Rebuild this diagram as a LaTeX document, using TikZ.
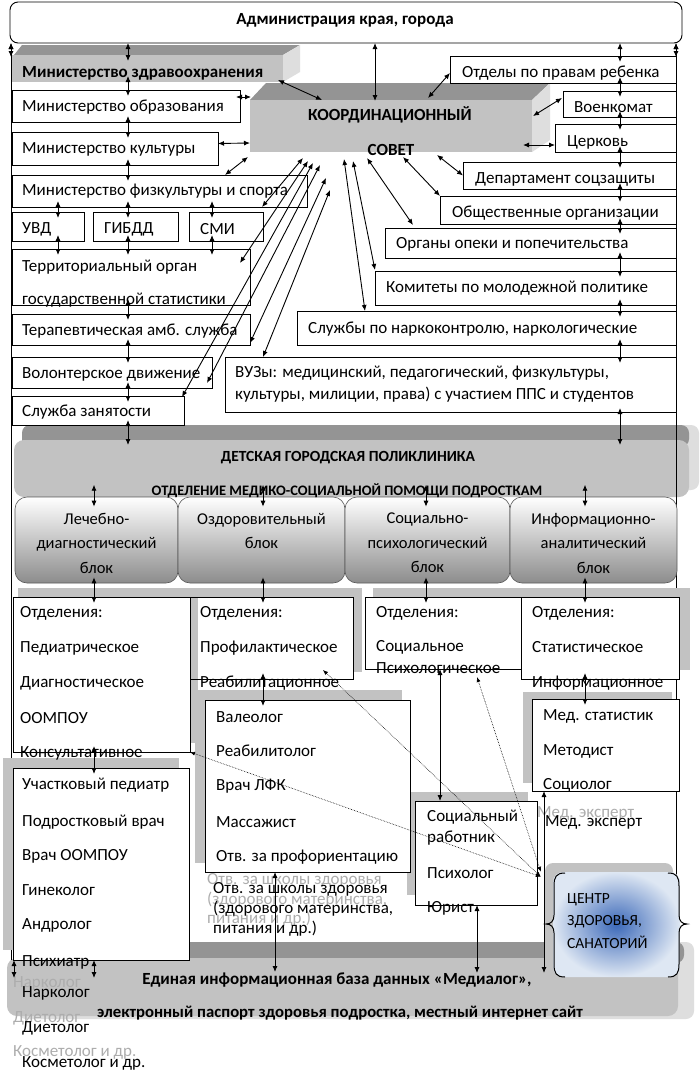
\documentclass[tikz,border=0pt]{standalone}
\usepackage{fontspec}
\setmainfont{Carlito}
\usetikzlibrary{arrows.meta,calc}
\definecolor{frontc}{gray}{0.76}
\definecolor{topc}{gray}{0.58}
\definecolor{sidec}{gray}{0.87}
\definecolor{shdc}{gray}{0.76}
\definecolor{ghost}{gray}{0.68}
\definecolor{blkbot}{gray}{0.55}
\definecolor{cin}{RGB}{60,105,185}
\definecolor{cout}{RGB}{222,231,243}
\newcommand\fsz{\fontsize{17}{20}\selectfont}
\newcommand\mkbox[6][]{\node[bx,#1,minimum width={#5-#3},minimum height={#6-#4}] (#2) at ({(#3+#5)/2},{(#4+#6)/2}) {};}
\newcommand\gaparr[3]{\draw[dar] ($(#1.south -| #3)+(0,-6)$) -- ($(#2.north -| #3)+(0,6)$);}
\begin{document}
\begin{tikzpicture}[x=1pt,y=-1pt,
  bx/.style={draw,line width=0.9pt,fill=white,inner sep=0pt,outer sep=0pt},
  tx/.style={anchor=west,inner sep=0pt,font=\fsz},
  btx/.style={tx,font=\fsz\bfseries},
  ctx/.style={inner sep=0pt,font=\fsz\bfseries},
  gh/.style={tx,text=ghost},
  bltx/.style={inner sep=0pt,align=center,font=\fontsize{16.5}{24.5}\selectfont},
  dar/.style={{Latex[length=6pt,width=5pt]}-{Latex[length=6pt,width=5pt]},line width=0.9pt},
  dotar/.style={{Latex[length=5pt,width=4pt]}-{Latex[length=5pt,width=4pt]},line width=0.6pt,densely dotted},
  blk/.style={draw=gray!70!black,line width=0.6pt,rounded corners=12pt,top color=white,bottom color=blkbot},
]
\useasboundingbox (0,0) rectangle (700,1076);
\fill[white] (0,0) rectangle (700,1076);

% helper x-coordinates
\coordinate (XF1) at (11,0);
\coordinate (XF2) at (676,0);
\coordinate (XL) at (128,0);
\coordinate (XU) at (58,0);
\coordinate (XS) at (212,0);
\coordinate (XR) at (620,0);
\coordinate (XC) at (375,0);
\coordinate (X1) at (94,0);
\coordinate (X2) at (263,0);
\coordinate (X3) at (426,0);
\coordinate (X4) at (585,0);
\coordinate (X5) at (440,0);
\coordinate (X6) at (477,0);
\coordinate (X7) at (544,0);
\coordinate (X8) at (275,0);

% ---------- polyclinic (3D) ----------
\fill[sidec,rounded corners=8pt] (22,425) rectangle (699,490);
\fill[topc,rounded corners=8pt] (22,425) rectangle (689,447);
\mkbox[draw=none,fill=frontc,rounded corners=10pt]{poly}{14}{440}{689}{497}

% ---------- data base (3D) ----------
\fill[sidec,rounded corners=8pt] (18,942) rectangle (694,1019);
\fill[topc,rounded corners=8pt] (18,942) rectangle (684,963);
\mkbox[draw=none,fill=frontc,rounded corners=10pt]{db}{7}{958}{678}{1016}

% ---------- top ----------
\mkbox[rounded corners=8pt]{admin}{10}{2}{682}{43}

% frame lines
\draw[line width=0.9pt,{Latex[length=6pt,width=5pt]}-] (admin.south -| XF1) -- ($(admin.south -| XF1)+(0,917)$);
\draw[dar] (admin.south -| XF1) -- ++(0,14);
\draw[line width=0.9pt,{Latex[length=6pt,width=5pt]}-{Latex[length=6pt,width=5pt]}] (admin.south -| XF2) -- ($(db.north -| XF2)+(0,16)$);
\draw[dar] (admin.south -| XF2) -- ++(0,14);

% Ministry of health (3D)
\fill[topc] (14,55) -- (22,45) -- (300,45) -- (283,55) -- cycle;
\fill[sidec] (283,55) -- (300,45) -- (300,72) -- (283,82) -- cycle;
\mkbox[draw=none,fill=frontc]{mh}{12}{55}{283}{82}

% Council (3D)
\fill[topc] (250,100) -- (266,83) -- (550,83) -- (532,100) -- cycle;
\fill[sidec] (532,100) -- (550,83) -- (550,140) -- (532,152) -- cycle;
\mkbox[draw=none,fill=frontc]{cs}{250}{100}{532}{152}

% left column
\mkbox{me}{12}{90}{240}{122}
\mkbox{mc}{12}{132}{218}{165}
\mkbox{ms}{12}{175}{307}{207}
\mkbox{uvd}{12}{212}{84}{241}
\mkbox{gibdd}{93}{212}{178}{241}
\mkbox{smi}{189}{212}{263}{241}
\mkbox{terr}{12}{249}{250}{305}
\mkbox{ther}{12}{314}{250}{345}
\mkbox{vol}{12}{357}{212}{388}
\mkbox{emp}{12}{396}{184}{425}

% right column
\mkbox{otd}{450}{56}{676}{83}
\mkbox{voen}{563}{91}{676}{117}
\mkbox{cerk}{555}{124}{676}{152}
\mkbox{dep}{463}{162}{676}{189}
\mkbox{obsh}{440}{196}{676}{224}
\mkbox{opek}{385}{228}{676}{258}
\mkbox{kom}{375}{271}{676}{305}
\mkbox{nark}{297}{311}{676}{345}
\mkbox{vuz}{225}{357}{676}{412}

% blocks
\node[blk,minimum width=163,minimum height=86,inner sep=0] (b1) at (96.5,540) {};
\node[blk,minimum width=167,minimum height=86,inner sep=0] (b2) at (261.5,540) {};
\node[blk,minimum width=165,minimum height=86,inner sep=0] (b3) at (427.5,540) {};
\node[blk,minimum width=167,minimum height=86,inner sep=0] (b4) at (593.5,540) {};

% shadows
\fill[shdc] (18,588) rectangle (362,597);
\fill[shdc] (373,588) rectangle (690,597);
\fill[shdc] (353,597) rectangle (362,672);
\fill[shdc] (679,597) rectangle (690,670);
\fill[shdc] (191,679) rectangle (198,743);
\fill[shdc] (195,690) rectangle (402,863);
\fill[shdc] (3,758) rectangle (179,950);
\fill[shdc] (523,692) rectangle (672,783);
\fill[shdc] (407,792) rectangle (528,895);
\fill[shdc,rounded corners=8pt] (545,863) rectangle (673,968);

% lower boxes
\mkbox{o1}{13}{597}{190}{752}
\mkbox{o2}{190}{597}{353}{679}
\fill[shdc] (191,598) rectangle (198,679);
\mkbox{o3}{365}{597}{521}{669}
\mkbox{o4}{521}{597}{679}{679}
\mkbox{val}{205}{700}{410}{872}
\mkbox{uch}{13}{768}{189}{960}
\mkbox{med}{532}{699}{679}{791}
\mkbox{soc}{415}{801}{537}{905}

% centre
\node[draw=none,rounded corners=10pt,inner sep=0,minimum width=127,minimum height=105,inner color=cin,outer color=cout] (cen) at (616.5,924.5) {};
\draw[line width=1pt] (565,873) .. controls (556,873) and (554,877) .. (554,886) -- (554,915) .. controls (554,921) and (551,924) .. (546,924) .. controls (551,924) and (554,927) .. (554,933) -- (554,964) .. controls (554,973) and (556,977) .. (565,977);
\draw[line width=1pt] (668,873) .. controls (677,873) and (679,877) .. (679,886) -- (679,915) .. controls (679,921) and (682,924) .. (687,924) .. controls (682,924) and (679,927) .. (679,933) -- (679,964) .. controls (679,973) and (677,977) .. (668,977);

% ---------- texts ----------
\node[ctx] (t_admin) at (345,20) {Администрация края, города};
\node[btx] (t_mh) at (22,73) {Министерство здравоохранения};
\node[tx] (t_me) at (22,107) {Министерство образования};
\node[tx] (t_mc) at (22,149) {Министерство культуры};
\node[tx] (t_ms) at (22,191) {Министерство физкультуры и спорта};
\node[tx] (t_uvd) at (22,229) {УВД};
\node[tx] (t_gibdd) at (104,229) {ГИБДД};
\node[tx] (t_smi) at (200,229) {СМИ};
\node[tx] (t_terr1) at (22,267) {Территориальный орган};
\node[tx] (t_terr2) at (22,300) {государственной статистики};
\node[tx] (t_ther) at (22,331) {Терапевтическая амб. служба};
\node[tx] (t_vol) at (22,374) {Волонтерское движение};
\node[tx] (t_emp) at (22,412) {Служба занятости};
\node[ctx] (t_cs1) at (390,115) {КООРДИНАЦИОННЫЙ};
\node[ctx] (t_cs2) at (391,150) {СОВЕТ};
\node[tx] (t_otd) at (462,73) {Отделы по правам ребенка};
\node[tx] (t_voen) at (574,107) {Военкомат};
\node[tx] (t_cerk) at (567,142) {Церковь};
\node[tx] (t_dep) at (475,179) {Департамент соцзащиты};
\node[tx] (t_obsh) at (452,213) {Общественные организации};
\node[tx] (t_opek) at (396,244) {Органы опеки и попечительства};
\node[tx] (t_kom) at (386,288) {Комитеты по молодежной политике};
\node[tx] (t_nark) at (308,329) {Службы по наркоконтролю, наркологические};
\node[tx] (t_vuz1) at (235,373) {ВУЗы: медицинский, педагогический, физкультуры,};
\node[tx] (t_vuz2) at (235,395) {культуры, милиции, права) с участием ППС и студентов};
\node[inner sep=0pt,font=\fontsize{15.5}{18}\selectfont\bfseries] (t_poly1) at (348,458) {ДЕТСКАЯ ГОРОДСКАЯ ПОЛИКЛИНИКА};
\node[inner sep=0pt,font=\fontsize{14.5}{18}\selectfont\bfseries] (t_poly2) at (347,491) {ОТДЕЛЕНИЕ МЕДИКО-СОЦИАЛЬНОЙ ПОМОЩИ ПОДРОСТКАМ};
\node[bltx] (t_b1) at ($(b1.center)+(0,3)$) {Лечебно-\\диагностический\\блок};
\node[bltx] (t_b2) at ($(b2.center)+(0,-9)$) {Оздоровительный\\блок};
\node[bltx] (t_b3) at ($(b3.center)+(0,3)$) {Социально-\\психологический\\блок};
\node[bltx] (t_b4) at ($(b4.center)+(0,3)$) {Информационно-\\аналитический\\блок};

\node[tx] (t_o1a) at (20,613) {Отделения:};
\node[tx] (t_o1b) at (20,648) {Педиатрическое};
\node[tx] (t_o1c) at (20,683) {Диагностическое};
\node[tx] (t_o1d) at (20,718) {ООМПОУ};
\node[tx] (t_o1e) at (20,753) {Консультативное};
\node[tx] (t_o2a) at (200,613) {Отделения:};
\node[tx] (t_o2b) at (200,648) {Профилактическое};
\node[tx] (t_o2c) at (200,683) {Реабилитационное};
\node[tx] (t_o3a) at (376,613) {Отделения:};
\node[tx] (t_o3b) at (376,647) {Социальное};
\node[tx] (t_o3c) at (376,668) {Психологическое};
\node[tx] (t_o4a) at (532,613) {Отделения:};
\node[tx] (t_o4b) at (532,647) {Статистическое};
\node[tx] (t_o4c) at (532,683) {Информационное};

\node[tx] (t_v1) at (216,717) {Валеолог};
\node[tx] (t_v2) at (216,751) {Реабилитолог};
\node[tx] (t_v3) at (216,786) {Врач ЛФК};
\node[tx] (t_v4) at (216,822) {Массажист};
\node[tx] (t_v5) at (216,857) {Отв. за профориентацию};
\node[gh] (g_v6) at (207,880) {Отв. за школы здоровья};
\node[gh] (g_v7) at (207,900) {(здорового материнства,};
\node[gh] (g_v8) at (207,919) {питания и др.)};
\node[tx] (t_v6) at (213,889) {Отв. за школы здоровья};
\node[tx] (t_v7) at (213,909) {(здорового материнства,};
\node[tx] (t_v8) at (213,929) {питания и др.)};

\node[gh] (g_u7) at (13,983) {Нарколог};
\node[gh] (g_u8) at (13,1018) {Диетолог};
\node[gh] (g_u9) at (13,1052) {Косметолог и др.};
\node[tx] (t_u1) at (22,785) {Участковый педиатр};
\node[tx] (t_u2) at (22,822) {Подростковый врач};
\node[tx] (t_u3) at (22,856) {Врач ООМПОУ};
\node[tx] (t_u4) at (22,890) {Гинеколог};
\node[tx] (t_u5) at (22,925) {Андролог};
\node[tx] (t_u6) at (22,962) {Психиатр};
\node[tx] (t_u7) at (22,993) {Нарколог};
\node[tx] (t_u8) at (22,1028) {Диетолог};
\node[tx] (t_u9) at (22,1063) {Косметолог и др.};

\node[tx] (t_m1) at (543,716) {Мед. статистик};
\node[tx] (t_m2) at (543,751) {Методист};
\node[tx] (t_m3) at (543,785) {Социолог};
\node[gh] (g_m4) at (537,813) {Мед. эксперт};
\node[tx] (t_m4) at (545,822) {Мед. эксперт};

\node[tx] (t_s1) at (427,817) {Социальный};
\node[tx] (t_s2) at (427,838) {работник};
\node[tx] (t_s3) at (427,873) {Психолог};
\node[tx] (t_s4) at (427,908) {Юрист};

\node[inner sep=0pt,anchor=west,font=\fontsize{15.5}{18}\selectfont] (t_c1) at (567,900) {ЦЕНТР};
\node[inner sep=0pt,anchor=west,font=\fontsize{15.5}{18}\selectfont] (t_c2) at (567,922) {ЗДОРОВЬЯ,};
\node[inner sep=0pt,anchor=west,font=\fontsize{15.5}{18}\selectfont] (t_c3) at (567,942) {САНАТОРИЙ};

\node[ctx] (t_db1) at (337,980) {Единая информационная база данных «Медиалог»,};
\node[ctx,font=\fontsize{16.7}{19}\selectfont\bfseries] (t_db2) at (340,1013) {электронный паспорт здоровья подростка, местный интернет сайт};

% ---------- connectors ----------
% left column
\draw[dar] (admin.south -| XL) -- ($(mh.north -| XL)+(0,6)$);
\gaparr{mh}{me}{XL}
\gaparr{me}{mc}{XL}
\gaparr{mc}{ms}{XL}
\gaparr{ms}{gibdd}{XL}
\gaparr{gibdd}{terr}{XL}
\gaparr{ms}{uvd}{XU}
\gaparr{uvd}{terr}{XU}
\gaparr{ms}{smi}{XS}
\gaparr{smi}{terr}{XS}
\gaparr{terr}{ther}{XL}
\gaparr{ther}{vol}{XL}
\gaparr{vol}{emp}{XL}
\draw[dar] ($(poly.north -| XL)+(0,-20)$) -- ($(poly.north -| XL)+(0,5)$);
% right column
\draw[dar] (admin.south -| XR) -- ($(otd.north -| XR)+(0,6)$);
\gaparr{otd}{voen}{XR}
\gaparr{voen}{cerk}{XR}
\gaparr{cerk}{dep}{XR}
\gaparr{dep}{obsh}{XR}
\gaparr{obsh}{opek}{XR}
\gaparr{opek}{kom}{XR}
\gaparr{kom}{nark}{XR}
\gaparr{nark}{vuz}{XR}
\draw[dar] ($(vuz.south -| XR)+(0,-4)$) -- ($(poly.north -| XR)+(0,5)$);
% admin - council
\draw[dar] (admin.south -| XC) -- ($(cs.north -| XC)+(0,1)$);
% council links
\draw[dar] ($(mh.south east)+(-5,-2)$) -- ($(cs.north west)+(72,0)$);
\draw[dar] ($(me.north east)+(-4,7)$) -- ($(cs.north west)+(1,-3)$);
\draw[dar] ($(mc.east)+(0,-5)$) -- ($(cs.west)+(0,17)$);
\draw[dar] ($(ms.north west)+(213,0)$) -- ($(cs.south west)+(-2,5)$);
\draw[dar] ($(cs.north west)+(178,-2)$) -- ($(otd.south west)+(0,-10)$);
\draw[dar] ($(cs.north east)+(1,16)$) -- ($(voen.north west)+(-1,7)$);
\draw[dar] ($(cs.south east)+(-9,-7)$) -- ($(cerk.west)+(0,7)$);
\draw[dar] ($(cs.south west)+(187,3)$) -- (dep.west);
\draw[dar] ($(cs.south west)+(153,5)$) -- (obsh.north west);
\draw[dar] ($(cs.south west)+(117,6)$) -- ($(opek.north west)+(28,-3)$);
\draw[dar] ($(cs.south west)+(103,9)$) -- ($(kom.north west)+(0,-1)$);
\draw[dar] ($(cs.south west)+(94,7)$) -- ($(nark.north west)+(68,0)$);
\draw[dar] ($(cs.south west)+(53,6)$) -- ($(ms.south east)+(-45,0)$);
\draw[dar] ($(cs.south west)+(58,9)$) -- ($(terr.north east)+(-10,14)$);
\draw[dar] ($(cs.south west)+(63,11)$) -- ($(emp.north east)+(-2,1)$);
\draw[dar] ($(cs.south west)+(70,13)$) -- ($(vol.south east)+(-5,-5)$);
\draw[dar] ($(cs.south west)+(76,26)$) -- ($(ther.south east)+(0,-2)$);
\draw[dar] ($(cs.south west)+(80,38)$) -- ($(vuz.north west)+(38,0)$);
% polyclinic - blocks - departments
\draw[dar] ($(b1.north -| X1)+(0,-12)$) -- ($(b1.north -| X1)+(0,10)$);
\draw[dar] ($(b2.north -| X2)+(0,-12)$) -- ($(b2.north -| X2)+(0,10)$);
\draw[dar] ($(b3.north -| X3)+(0,-12)$) -- ($(b3.north -| X3)+(0,10)$);
\draw[dar] ($(b4.north -| X4)+(0,-12)$) -- ($(b4.north -| X4)+(0,10)$);
\gaparr{b1}{o1}{X1}
\gaparr{b2}{o2}{X2}
\gaparr{b3}{o3}{X3}
\gaparr{b4}{o4}{X4}
\gaparr{o2}{val}{X2}
\gaparr{o4}{med}{X4}
\gaparr{o1}{uch}{X1}
\draw[dar] (uch.south -| X1) -- ++(0,18);
\draw[dar] ($(uch.south -| XF1)+(3,0)$) -- ++(0,18);
\draw[dar] (o3.south -| X5) -- (soc.north -| X5);
\draw[dar] (soc.south -| X6) -- ($(db.north -| X6)+(0,15)$);
\draw[dar] (med.south -| X7) -- ($(db.north -| X7)+(0,15)$);
\draw[dar] (val.south -| X8) -- ($(db.north -| X8)+(0,14)$);
% dotted links to centre
\draw[dotar] (o1.south east) -- ($(cen.north west)+(-12,5)$);
\draw[dotar] ($(o2.south east)+(-30,-9)$) -- ($(cen.north west)+(-12,5)$);
\draw[dotar] ($(o3.south west)+(112,8)$) -- ($(cen.north west)+(-12,0)$);
\end{tikzpicture}
\end{document}
